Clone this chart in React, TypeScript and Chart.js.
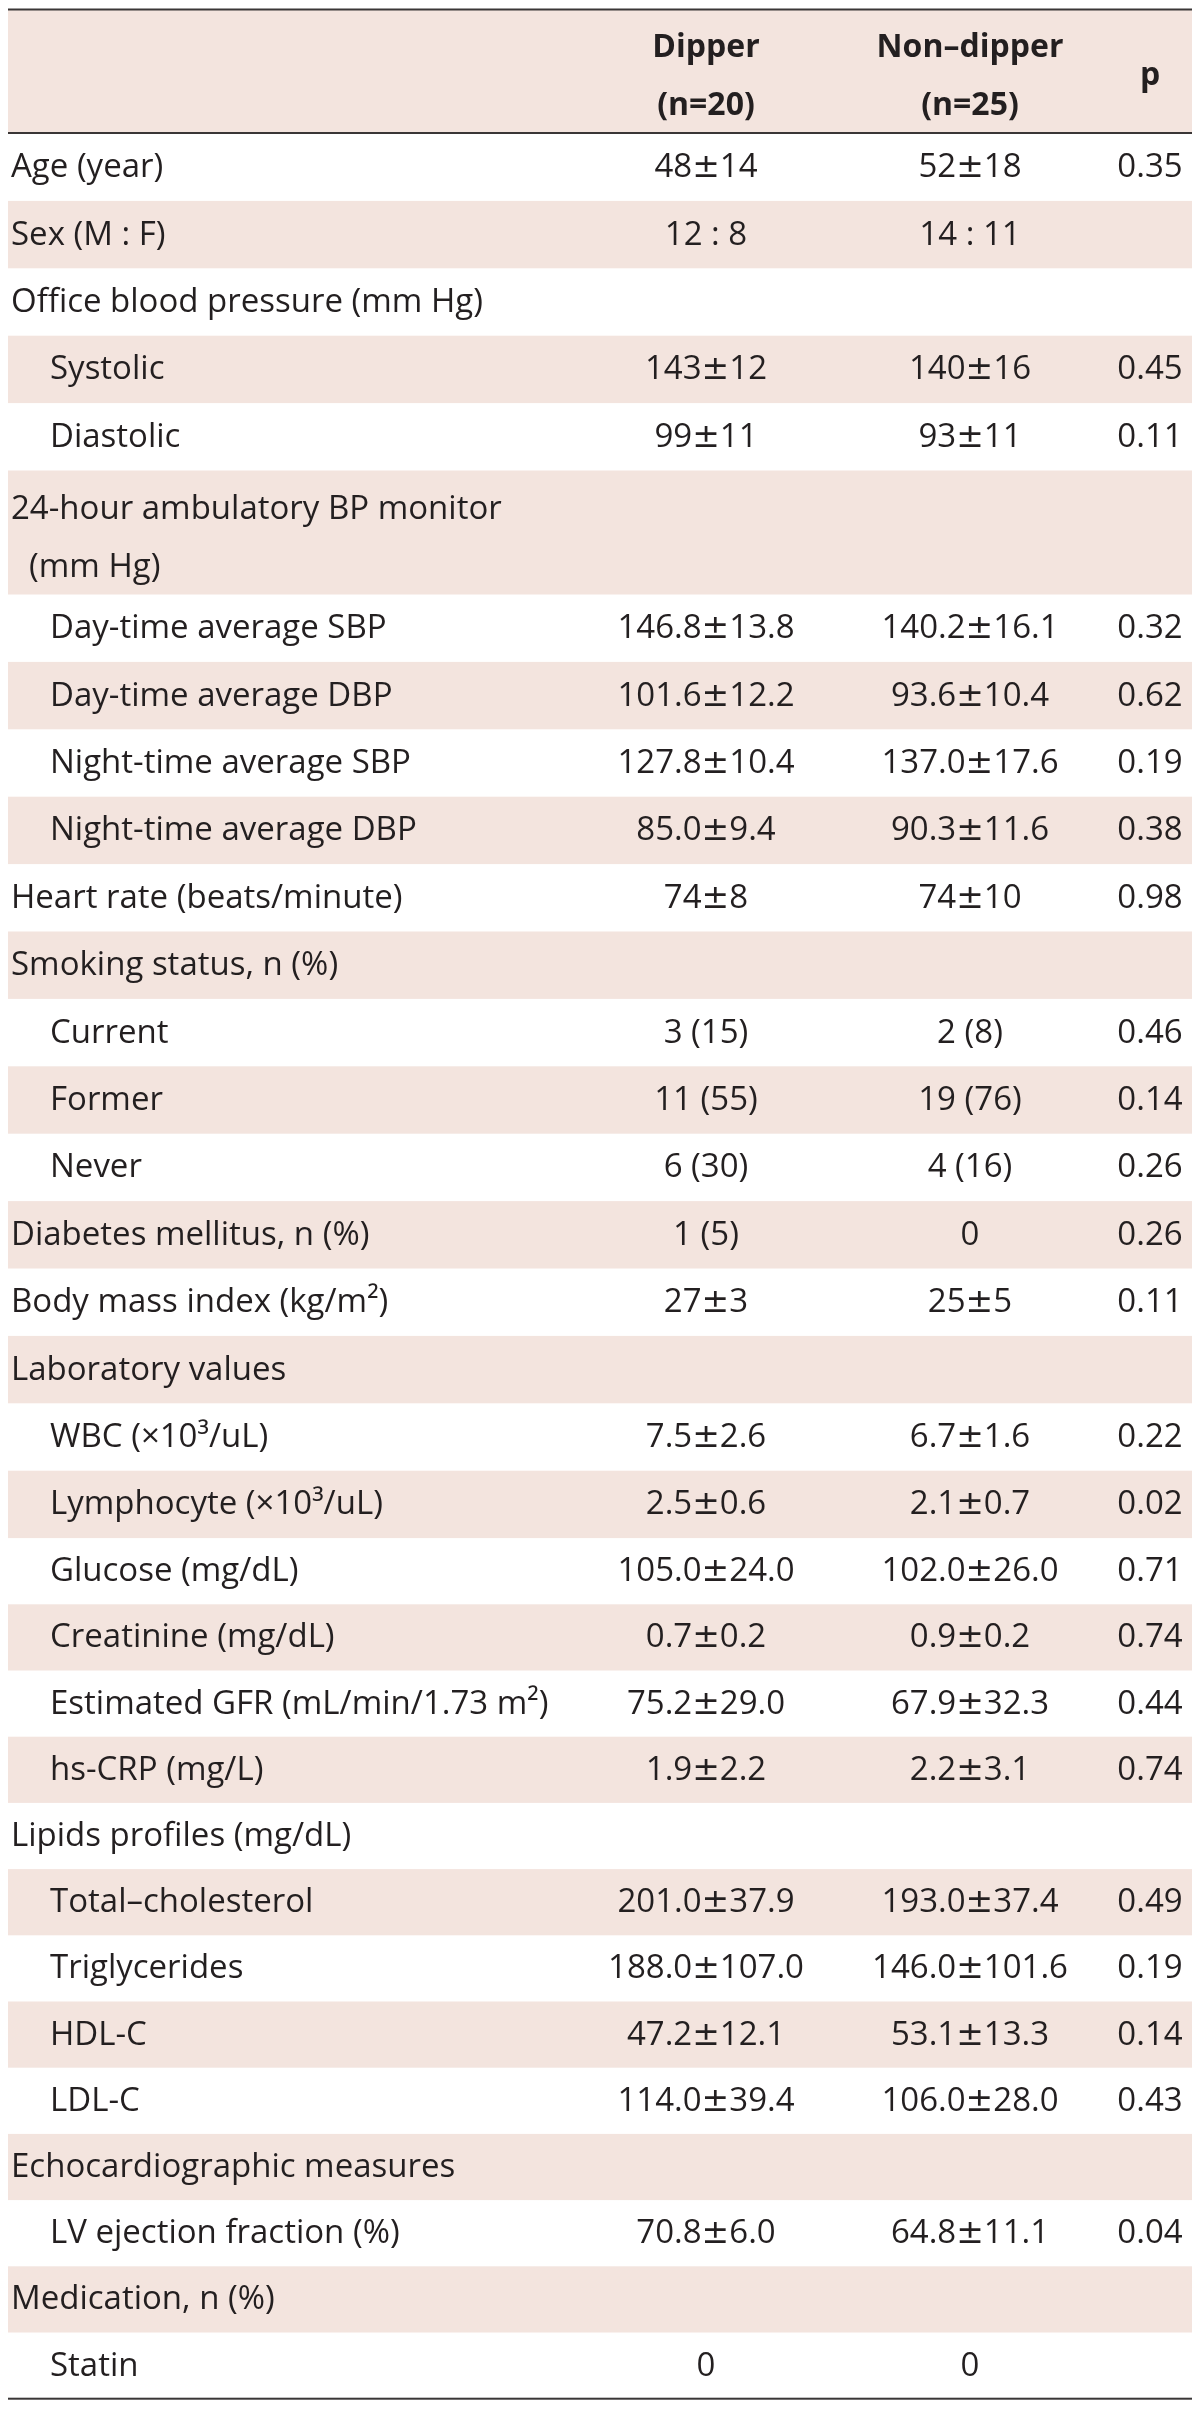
import React, { useEffect, useRef } from "react";
import { Chart, registerables } from "chart.js";

Chart.register(...registerables);

// ---------- DATA ----------
const HEADER_COLS = ["Dipper", "Non–dipper", "p"];
const HEADER_N = ["(n=20)", "(n=25)", ""];

const ROW_LABELS = [
  "Age (year)",
  "Sex (M : F)",
  "Office blood pressure (mm Hg)",
  "Systolic",
  "Diastolic",
  "24-hour ambulatory BP monitor|(mm Hg)",
  "Day-time average SBP",
  "Day-time average DBP",
  "Night-time average SBP",
  "Night-time average DBP",
  "Heart rate (beats/minute)",
  "Smoking status, n (%)",
  "Current",
  "Former",
  "Never",
  "Diabetes mellitus, n (%)",
  "Body mass index (kg/m²)",
  "Laboratory values",
  "WBC (×10³/uL)",
  "Lymphocyte (×10³/uL)",
  "Glucose (mg/dL)",
  "Creatinine (mg/dL)",
  "Estimated GFR (mL/min/1.73 m²)",
  "hs-CRP (mg/L)",
  "Lipids profiles (mg/dL)",
  "Total–cholesterol",
  "Triglycerides",
  "HDL-C",
  "LDL-C",
  "Echocardiographic measures",
  "LV ejection fraction (%)",
  "Medication, n (%)",
  "Statin",
];

const ROW_LEVEL = [
  0, 0, 0, 1, 1, 0, 1, 1, 1, 1, 0, 0, 1, 1, 1, 0, 0, 0, 1, 1, 1, 1, 1, 1, 0, 1,
  1, 1, 1, 0, 1, 0, 1,
];

const DIPPER = [
  "48±14", "12 : 8", "", "143±12", "99±11", "",
  "146.8±13.8", "101.6±12.2", "127.8±10.4", "85.0±9.4", "74±8", "",
  "3 (15)", "11 (55)", "6 (30)", "1 (5)", "27±3", "",
  "7.5±2.6", "2.5±0.6", "105.0±24.0", "0.7±0.2", "75.2±29.0", "1.9±2.2", "",
  "201.0±37.9", "188.0±107.0", "47.2±12.1", "114.0±39.4", "",
  "70.8±6.0", "", "0",
];

const NON_DIPPER = [
  "52±18", "14 : 11", "", "140±16", "93±11", "",
  "140.2±16.1", "93.6±10.4", "137.0±17.6", "90.3±11.6", "74±10", "",
  "2 (8)", "19 (76)", "4 (16)", "0", "25±5", "",
  "6.7±1.6", "2.1±0.7", "102.0±26.0", "0.9±0.2", "67.9±32.3", "2.2±3.1", "",
  "193.0±37.4", "146.0±101.6", "53.1±13.3", "106.0±28.0", "",
  "64.8±11.1", "", "0",
];

const P_VALUES = [
  "0.35", "", "", "0.45", "0.11", "",
  "0.32", "0.62", "0.19", "0.38", "0.98", "",
  "0.46", "0.14", "0.26", "0.26", "0.11", "",
  "0.22", "0.02", "0.71", "0.74", "0.44", "0.74", "",
  "0.49", "0.19", "0.14", "0.43", "",
  "0.04", "", "",
];

// ---------- LAYOUT ----------
const W = 1184;
const H = 2394;
const TOP_LINE = 1.5;
const HEADER_BOTTOM = 125;
const ROW_H_UPPER = 67.4;
const ROW_H_LOWER = 66.2;
const SPLIT_ROW = 20;
const DOUBLE_H = 124;
const COL_X = [698, 962, 1142];
const LABEL_X = [3, 42];
const CONT_X = 21;
const BAND = "rgb(243,228,222)";
const INK = "#231f20";
const RULE = "#3a3636";
const FONT = "33px 'Open Sans'";
const FONT_PM = "33px 'DejaVu Sans'";
const FONT_BOLD = "bold 32px 'Open Sans'";

function rowBounds() {
  const out: { top: number; bottom: number; double: boolean }[] = [];
  let y = HEADER_BOTTOM + 0.5;
  ROW_LABELS.forEach((lab, i) => {
    const dbl = lab.includes("|");
    const h = dbl ? DOUBLE_H : i < SPLIT_ROW ? ROW_H_UPPER : ROW_H_LOWER;
    out.push({ top: y, bottom: y + h, double: dbl });
    y += h;
  });
  return out;
}

// draws a value centred at x, with the ± sign set in a wider face
function drawValue(ctx: CanvasRenderingContext2D, text: string, x: number, y: number) {
  const parts = text.split("±");
  const segs: { t: string; f: string }[] = [];
  parts.forEach((p, i) => {
    if (i > 0) segs.push({ t: "±", f: FONT_PM });
    if (p) segs.push({ t: p, f: FONT });
  });
  let total = 0;
  const widths = segs.map((s) => {
    ctx.font = s.f;
    const w = ctx.measureText(s.t).width;
    total += w;
    return w;
  });
  let cx = x - total / 2;
  ctx.textAlign = "left";
  segs.forEach((s, i) => {
    ctx.font = s.f;
    ctx.fillText(s.t, cx, y);
    cx += widths[i];
  });
  ctx.font = FONT;
}

const tablePlugin = {
  id: "tableCells",
  beforeDatasetsDraw(chart: any) {
    const { ctx } = chart;
    const xs = chart.scales.x;
    const ys = chart.scales.y;
    const px = (v: number) => xs.getPixelForValue(v);
    const py = (v: number) => ys.getPixelForValue(v);
    const left = px(0);
    const right = px(W);
    const rows = rowBounds();
    ctx.save();

    ctx.fillStyle = BAND;
    ctx.fillRect(left, py(TOP_LINE), right - left, py(HEADER_BOTTOM) - py(TOP_LINE));
    rows.forEach((r, i) => {
      if (i % 2 === 1) {
        ctx.fillStyle = BAND;
        ctx.fillRect(left, py(r.top), right - left, py(r.bottom) - py(r.top));
      }
    });

    const rule = (yv: number, w: number) => {
      ctx.fillStyle = RULE;
      ctx.fillRect(left, py(yv) - w / 2, right - left, w);
    };
    rule(TOP_LINE, 2);
    rule(HEADER_BOTTOM, 2);
    rule(rows[rows.length - 1].bottom, 2);

    ctx.fillStyle = INK;
    ctx.font = FONT_BOLD;
    ctx.textAlign = "center";
    ctx.textBaseline = "alphabetic";
    HEADER_COLS.forEach((h, c) => {
      if (HEADER_N[c]) {
        ctx.fillText(h, px(COL_X[c]), py(49));
        ctx.fillText(HEADER_N[c], px(COL_X[c]), py(107));
      } else {
        ctx.fillText(h, px(COL_X[c]), py(77));
      }
    });

    ctx.font = FONT;
    rows.forEach((r, i) => {
      const lab = ROW_LABELS[i];
      ctx.textAlign = "left";
      if (r.double) {
        const [a, b] = lab.split("|");
        ctx.fillText(a, px(LABEL_X[ROW_LEVEL[i]]), py(r.top + 48));
        ctx.fillText(b, px(CONT_X), py(r.top + 106));
      } else {
        const base = (r.top + r.bottom) / 2 + 10;
        ctx.fillText(lab, px(LABEL_X[ROW_LEVEL[i]]), py(base));
        [DIPPER[i], NON_DIPPER[i], P_VALUES[i]].forEach((v, c) => {
          if (v) drawValue(ctx, v, px(COL_X[c]), py(base));
        });
      }
    });
    ctx.restore();
  },
};

export default function App() {
  const ref = useRef<HTMLCanvasElement | null>(null);
  useEffect(() => {
    if (!ref.current) return;
    const chart = new Chart(ref.current, {
      type: "scatter",
      data: { datasets: [{ data: [], pointRadius: 0 }] },
      options: {
        responsive: false,
        animation: false,
        layout: { padding: 0 },
        plugins: { legend: { display: false }, tooltip: { enabled: false } },
        scales: {
          x: { type: "linear", min: 0, max: W, display: false },
          y: { type: "linear", min: 0, max: H, reverse: true, display: false },
        },
      },
      plugins: [tablePlugin],
    });
    if ((document as any).fonts && (document as any).fonts.ready) {
      (document as any).fonts.ready.then(() => chart.draw());
    }
    return () => chart.destroy();
  }, []);
  return (
    <div style={{ width: W, height: H }}>
      <canvas ref={ref} width={W} height={H} style={{ display: "block" }} />
    </div>
  );
}
